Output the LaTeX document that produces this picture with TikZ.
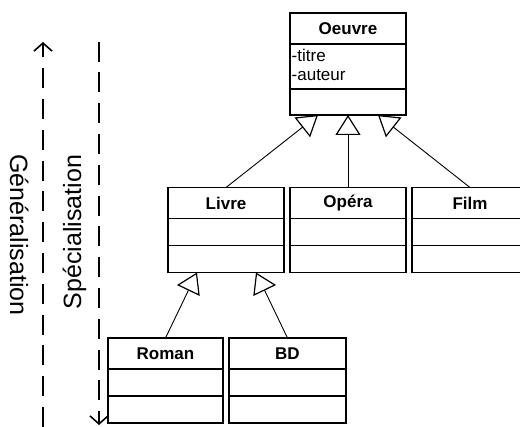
\documentclass[tikz,border=0pt]{standalone}
\usepackage{fontspec}
\setmainfont{Liberation Sans}
\usetikzlibrary{arrows.meta,calc}

\begin{document}
\begin{tikzpicture}[x=1pt,y=-1pt,
  box/.style={draw, line width=1.5pt, minimum width=116pt, inner sep=0pt, outer sep=0pt},
  hdr/.style={box, minimum height=31pt, font=\fontsize{17}{20}\selectfont\bfseries},
  attr/.style={anchor=base west, inner sep=0pt, font=\fontsize{17}{20}\selectfont},
  gen/.style={line width=0.9pt, -{Triangle[open, length=20pt, width=25pt, line width=1.2pt]}},
  axis/.style={line width=2pt, dash pattern=on 20pt off 10.8pt},
  barb/.style={-{Straight Barb[length=8pt, width=18pt, line width=1.6pt]}},
  side/.style={inner sep=0pt, anchor=base, font=\fontsize{25}{30}\selectfont}]
\useasboundingbox (0,0) rectangle (520,427);

% Oeuvre
\node[hdr] (oeuvre) at (348,28.5) {Oeuvre};
\node[box, minimum height=45pt, anchor=north] (oeuvreA) at (oeuvre.south) {};
\node[box, minimum height=26pt, anchor=north] (oeuvreM) at (oeuvreA.south) {};
\node[attr] (titre) at (291.5,62) {-titre};
\node[attr] (auteur) at (291.5,81) {-auteur};

% second level
\node[hdr] (livre) at (226,203) {Livre};
\node[box, minimum height=27pt, anchor=north] (livreA) at (livre.south) {};
\node[box, minimum height=27pt, anchor=north] (livreM) at (livreA.south) {};

\node[hdr] (opera) at (348,203) {Opéra};
\node[box, minimum height=27pt, anchor=north] (operaA) at (opera.south) {};
\node[box, minimum height=27pt, anchor=north] (operaM) at (operaA.south) {};

\node[hdr] (film) at (470,203) {Film};
\node[box, minimum height=27pt, anchor=north] (filmA) at (film.south) {};
\node[box, minimum height=27pt, anchor=north] (filmM) at (filmA.south) {};

% third level
\node[hdr, minimum width=115pt] (roman) at (165.5,353.5) {Roman};
\node[box, minimum width=115pt, minimum height=27pt, anchor=north] (romanA) at (roman.south) {};
\node[box, minimum width=115pt, minimum height=27pt, anchor=north] (romanM) at (romanA.south) {};

\node[hdr, minimum width=117pt] (bd) at (287.5,353.5) {BD};
\node[box, minimum width=117pt, minimum height=27pt, anchor=north] (bdA) at (bd.south) {};
\node[box, minimum width=117pt, minimum height=27pt, anchor=north] (bdM) at (bdA.south) {};

% inheritance targets on the parent boxes
\coordinate (oL) at ($(oeuvreM.south)+(-30,0)$);
\coordinate (oR) at ($(oeuvreM.south)+(30,0)$);
\coordinate (lL) at ($(livreM.south)+(-29,0)$);
\coordinate (lR) at ($(livreM.south)+(30,0)$);

\draw[gen] (livre.north) -- (oL);
\draw[gen] (opera.north) -- (oeuvreM.south);
\draw[gen] (film.north) -- (oR);
\draw[gen] (roman.north) -- (lL);
\draw[gen] (bd.north) -- (lR);

% generalisation / specialisation axes
\coordinate (gTop) at (43,42);
\coordinate (gBot) at (43,427);
\coordinate (sTop) at (99,41.7);
\coordinate (sBot) at (99,425);
\draw[axis, barb] (gBot) -- (gTop);
\draw[axis, barb] (sTop) -- (sBot);

\node[side, rotate=-90] (gen) at (10,235) {Généralisation};
\node[side, rotate=90] (spec) at (81,232) {Spécialisation};
\end{tikzpicture}
\end{document}
